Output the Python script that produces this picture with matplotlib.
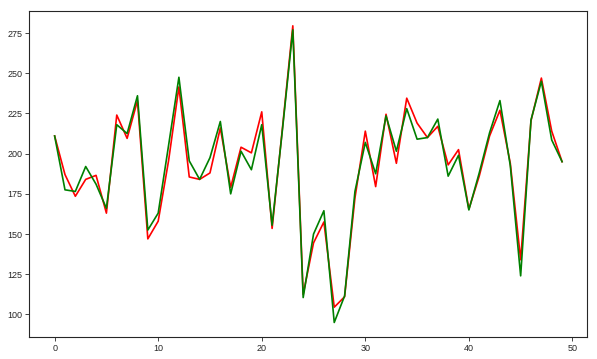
import matplotlib
matplotlib.use('Agg')
import matplotlib.pyplot as plt

plt.rcParams.update({
    'font.family': ['Liberation Sans', 'DejaVu Sans'],
    'font.size': 6.5,
})

x = list(range(50))

red_vals = [211, 187, 173.5, 184, 186.5, 163, 224, 209.5, 233, 147,
            158, 195.5, 241.5, 185.5, 184, 188, 216, 179, 204, 200.5,
            226, 153.5, 216, 279.5, 112.5, 144.5, 157.5, 104.5, 111, 172.5,
            214, 179.5, 224.5, 194, 234.5, 219, 210, 217, 193, 202.5,
            165.5, 186, 211, 227, 194, 134, 220.5, 247, 214, 195]

green_vals = [211, 177.5, 176.5, 192, 181, 166, 218, 212.5, 236, 152.5,
              163, 205, 247.5, 195.5, 184, 197.5, 220, 175, 201.5, 190,
              218, 155.5, 215, 277, 110.5, 150, 164.5, 95, 111.5, 176.5,
              207, 187.5, 223.5, 201.5, 228, 209, 210, 221.5, 186, 199,
              165, 188, 213, 233, 192.5, 124, 221, 245, 208.5, 195]

fig = plt.figure(figsize=(5.97, 3.59), dpi=100)
ax = fig.add_axes([0.049, 0.0604, 0.935, 0.909])
ax.plot(x, red_vals, color='red', linewidth=1.2)
ax.plot(x, green_vals, color='green', linewidth=1.2)

ax.set_xticks([0, 10, 20, 30, 40, 50])
ax.set_yticks([100, 125, 150, 175, 200, 225, 250, 275])
ax.tick_params(length=3, width=0.6, pad=2, colors='#262626')
for s in ax.spines.values():
    s.set_linewidth(0.8)
    s.set_color('#262626')

fig.savefig('out.png', dpi=100)
